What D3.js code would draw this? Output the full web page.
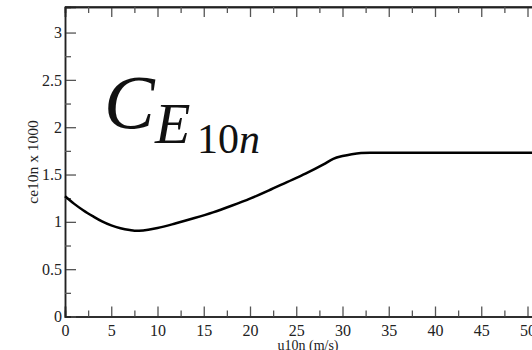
<!DOCTYPE html>
<html>
<head>
<meta charset="utf-8">
<script src="https://cdn.jsdelivr.net/npm/d3@7"></script>
<style>
  html, body { margin: 0; padding: 0; background: #fff; }
  svg text { font-family: "Liberation Serif", "Times New Roman", Tinos, "DejaVu Serif", serif; }
</style>
</head>
<body>
<div id="chart"></div>
<script>
// wind speed (m/s) and transfer coefficient x 1000
const windSpeed = [0, 1, 2, 3, 4, 5, 6, 7, 7.5, 8, 9, 10, 12, 14, 16, 18, 20, 22, 24, 26, 28, 29, 30, 31, 32, 33, 40, 51];
const ceValues  = [1.27, 1.19, 1.12, 1.06, 1.005, 0.963, 0.933, 0.913, 0.906, 0.907, 0.917, 0.935, 0.985, 1.04, 1.10, 1.17, 1.245, 1.33, 1.42, 1.51, 1.61, 1.665, 1.695, 1.715, 1.727, 1.73, 1.73, 1.73];

const xTicks = [0, 5, 10, 15, 20, 25, 30, 35, 40, 45, 50];
const yTicks = [0, 0.5, 1, 1.5, 2, 2.5, 3];
const xMinor = [2.5, 7.5, 12.5, 17.5, 22.5, 27.5, 32.5, 37.5, 42.5, 47.5];
const yMinor = [0.25, 0.75, 1.25, 1.75, 2.25, 2.75];

const width = 532, height = 350;
const plotLeft = 65, plotTop = 7, plotBottom = 316.5;
const serif = '"Liberation Serif", "Times New Roman", Tinos, "DejaVu Serif", serif';

const x = d3.scaleLinear().domain([0, 51]).range([plotLeft, plotLeft + 51 * 9.25]);
const y = d3.scaleLinear().domain([0, 3.27]).range([plotBottom, plotTop]);

const svg = d3.select("#chart").append("svg")
    .attr("width", width)
    .attr("height", height)
    .attr("font-family", serif);

// top frame line
svg.append("line")
    .attr("x1", plotLeft).attr("x2", width + 10)
    .attr("y1", plotTop).attr("y2", plotTop)
    .attr("stroke", "#222").attr("stroke-width", 1.5);

// bottom axis (ticks point inward)
const xAxis = svg.append("g")
    .attr("transform", `translate(0,${plotBottom})`)
    .call(d3.axisBottom(x).tickValues(xTicks).tickSize(-10).tickPadding(5).tickFormat(d3.format("d")));
xAxis.selectAll(".tick text").attr("dy", "0.9em");
svg.append("g")
    .attr("transform", `translate(0,${plotBottom})`)
    .call(d3.axisBottom(x).tickValues(xMinor).tickSize(-6).tickFormat(""));

// top mirrored ticks
svg.append("g")
    .attr("transform", `translate(0,${plotTop})`)
    .call(d3.axisTop(x).tickValues(xTicks).tickSize(-10).tickFormat(""));
svg.append("g")
    .attr("transform", `translate(0,${plotTop})`)
    .call(d3.axisTop(x).tickValues(xMinor).tickSize(-6).tickFormat(""));

// left axis
svg.append("g")
    .attr("transform", `translate(${plotLeft},0)`)
    .call(d3.axisLeft(y).tickValues(yTicks).tickSize(-11).tickPadding(3).tickFormat(d3.format("")));
svg.append("g")
    .attr("transform", `translate(${plotLeft},0)`)
    .call(d3.axisLeft(y).tickValues(yMinor).tickSize(-6).tickFormat(""));

svg.selectAll("g").attr("font-family", serif);
svg.selectAll(".domain").attr("stroke", "#222").attr("stroke-width", 1.5);
svg.selectAll(".tick line").attr("stroke", "#555").attr("stroke-width", 1.3);
svg.selectAll(".tick text")
    .attr("font-size", 16)
    .attr("fill", "#222");

// axis titles
svg.append("text")
    .attr("x", 308).attr("y", 350)
    .attr("text-anchor", "middle")
    .attr("font-size", 14)
    .attr("fill", "#222")
    .text("u10n (m/s)");

svg.append("text")
    .attr("transform", "translate(38,162) rotate(-90)")
    .attr("text-anchor", "middle")
    .attr("font-size", 15.5)
    .attr("fill", "#222")
    .text("ce10n x 1000");

// the curve
const line = d3.line()
    .x((d, i) => x(windSpeed[i]))
    .y(d => y(d))
    .curve(d3.curveMonotoneX);

svg.append("path")
    .datum(ceValues)
    .attr("fill", "none")
    .attr("stroke", "#000")
    .attr("stroke-width", 2.5)
    .attr("d", line);

// symbol label C_{E_{10n}}
const sym = svg.append("text").attr("fill", "#111");
sym.append("tspan")
    .attr("x", 104).attr("y", 128)
    .attr("font-size", 76).attr("font-style", "italic")
    .text("C");
sym.append("tspan")
    .attr("x", 155).attr("y", 143)
    .attr("font-size", 58).attr("font-style", "italic")
    .text("E");
sym.append("tspan")
    .attr("x", 197).attr("y", 153)
    .attr("font-size", 42)
    .text("10");
sym.append("tspan")
    .attr("font-size", 42).attr("font-style", "italic")
    .text("n");
</script>
</body>
</html>
